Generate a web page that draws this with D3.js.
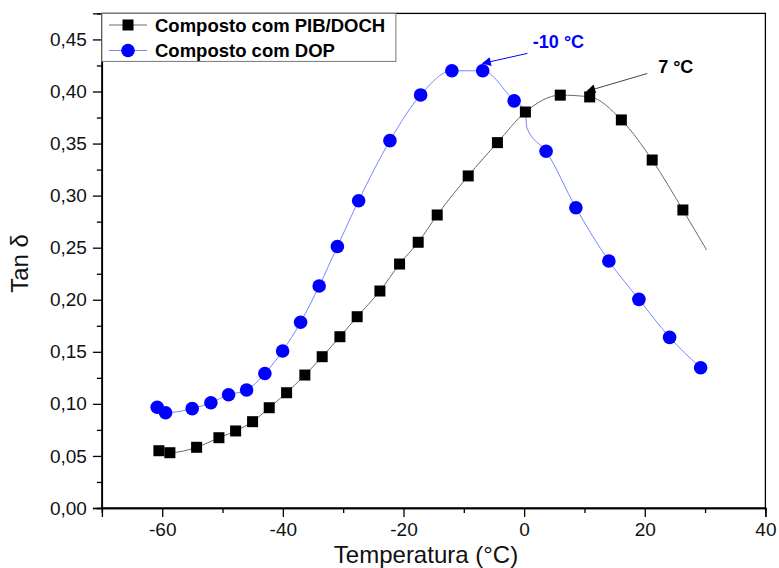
<!DOCTYPE html>
<html>
<head>
<meta charset="utf-8">
<script src="https://cdn.jsdelivr.net/npm/d3@7/dist/d3.min.js"></script>
<style>
  html, body { margin: 0; padding: 0; background: #fff; }
  svg { display: block; font-family: "Liberation Sans", Arial, sans-serif; }
</style>
</head>
<body>
<svg id="chart" width="779" height="568"></svg>
<script>
// Tan delta versus temperature for two composites
const seriesNames = ["Composto com PIB/DOCH", "Composto com DOP"];

// Composto com PIB/DOCH (squares)
const pibTemp = [-60.55, -58.73, -54.30, -50.60, -47.83, -45.02, -42.26, -39.38, -36.35, -33.48,
                 -30.54, -27.68, -23.91, -20.65, -17.56, -14.41, -9.27, -4.43, 0.21, 5.99,
                 10.87, 16.12, 21.23, 26.32];
const pibTan  = [0.0550, 0.0531, 0.0583, 0.0675, 0.0740, 0.0829, 0.0963, 0.1107, 0.1277, 0.1453,
                 0.1645, 0.1837, 0.2084, 0.2343, 0.2552, 0.2814, 0.3189, 0.3509, 0.3803, 0.3965,
                 0.3948, 0.3727, 0.3342, 0.2862];
// fitted curve runs a little beyond the last measured point
const pibCurveEndTemp = [30.25];
const pibCurveEndTan  = [0.2478];

// Composto com DOP (circles)
const dopTemp = [-60.83, -59.44, -55.03, -51.93, -49.00, -46.01, -42.98, -40.04, -37.06, -33.98,
                 -30.96, -27.44, -22.25, -17.16, -11.98, -6.87, -1.66, 3.64, 8.58, 14.05,
                 19.03, 24.12, 29.26];
const dopTan  = [0.0967, 0.0915, 0.0954, 0.1011, 0.1088, 0.1133, 0.1292, 0.1508, 0.1784, 0.2132,
                 0.2512, 0.2951, 0.3528, 0.3967, 0.4199, 0.4199, 0.3910, 0.3426, 0.2884, 0.2372,
                 0.2004, 0.1639, 0.1347];
// step in the DOP trace near 0 °C
const dopStepTemp = [0.19, 0.46];
const dopStepTan  = [0.3813, 0.3650];

// Axis ticks
const xMajorTicks = [-60, -40, -20, 0, 20, 40];
const xMinorTicks = [-70, -50, -30, -10, 10, 30];
const yMajorTicks = [0, 0.05, 0.10, 0.15, 0.20, 0.25, 0.30, 0.35, 0.40, 0.45];
const yMinorTicks = [0.025, 0.075, 0.125, 0.175, 0.225, 0.275, 0.325, 0.375, 0.425];

// Peak annotations: label, label position, arrow start and arrow tip
const peakLabels = ["-10 °C", "7 °C"];
const peakLabelTemp = [1.45, 22.22];
const peakLabelTan  = [0.4415, 0.418];
const peakArrowFromTemp = [0.55, 20.42];
const peakArrowFromTan  = [0.4366, 0.4173];
const peakArrowToTemp = [-6.87, 10.44];
const peakArrowToTan  = [0.4270, 0.4003];

const colors = { pib: "#000000", pibLine: "#6a6a6a", dop: "#0000ff", dopLine: "#7a86ff" };

const svg = d3.select("#chart");
const W = 779, H = 568;
const m = { left: 101.9, right: 13.6, top: 13.4, bottom: 60 };

const x = d3.scaleLinear().domain([-70, 40]).range([m.left, W - m.right]);
const y = d3.scaleLinear().domain([0, 0.475]).range([H - m.bottom, m.top]);

const fmtY = v => d3.format(".2f")(v).replace(".", ",");
const fmtX = v => String(v); // plain hyphen-minus

// Plot frame
svg.append("rect")
  .attr("x", x(-70)).attr("y", y(0.475))
  .attr("width", x(40) - x(-70)).attr("height", y(0) - y(0.475))
  .attr("fill", "none").attr("stroke", "#000").attr("stroke-width", 1.3);

// Axes
const xAxis = svg.append("g").attr("transform", `translate(0,${y(0)})`)
  .call(d3.axisBottom(x).tickValues(xMajorTicks).tickSize(9).tickPadding(6).tickFormat(fmtX));
const xAxisMinor = svg.append("g").attr("transform", `translate(0,${y(0)})`)
  .call(d3.axisBottom(x).tickValues(xMinorTicks).tickSize(5).tickFormat(""));
const yAxis = svg.append("g").attr("transform", `translate(${x(-70)},0)`)
  .call(d3.axisLeft(y).tickValues(yMajorTicks).tickSize(9).tickPadding(6).tickFormat(fmtY));
const yAxisMinor = svg.append("g").attr("transform", `translate(${x(-70)},0)`)
  .call(d3.axisLeft(y).tickValues(yMinorTicks).tickSize(5).tickFormat(""));

[xAxis, xAxisMinor, yAxis, yAxisMinor].forEach(g => {
  g.select(".domain").attr("stroke", "#000").attr("stroke-width", 1.3);
  g.selectAll(".tick line").attr("stroke", "#000").attr("stroke-width", 1.3);
  g.selectAll(".tick text").attr("fill", "#111").attr("font-size", 19)
    .attr("font-family", "'Liberation Sans', Arial, sans-serif");
});

// Axis titles
svg.append("text")
  .attr("x", 426).attr("y", 563)
  .attr("text-anchor", "middle").attr("font-size", 24).attr("fill", "#111")
  .text("Temperatura (°C)");
svg.append("text")
  .attr("transform", "translate(28,263.5) rotate(-90)")
  .attr("text-anchor", "middle").attr("font-size", 24).attr("fill", "#111")
  .text("Tan δ");

// Curves
const pibPts = pibTemp.map((t, i) => [t, pibTan[i]])
  .concat(pibCurveEndTemp.map((t, i) => [t, pibCurveEndTan[i]]));
const dopPts = dopTemp.map((t, i) => [t, dopTan[i]])
  .concat(dopStepTemp.map((t, i) => [t, dopStepTan[i]]))
  .sort((a, b) => a[0] - b[0]);

const line = d3.line().x(d => x(d[0])).y(d => y(d[1])).curve(d3.curveMonotoneX);

svg.append("path").datum(pibPts).attr("d", line)
  .attr("fill", "none").attr("stroke", colors.pibLine).attr("stroke-width", 1);
svg.append("path").datum(dopPts).attr("d", line)
  .attr("fill", "none").attr("stroke", colors.dopLine).attr("stroke-width", 1);

// Markers
const sq = 11;
svg.append("g").selectAll("rect").data(pibTemp.map((t, i) => [t, pibTan[i]])).join("rect")
  .attr("x", d => x(d[0]) - sq / 2).attr("y", d => y(d[1]) - sq / 2)
  .attr("width", sq).attr("height", sq).attr("fill", colors.pib);
svg.append("g").selectAll("circle").data(dopTemp.map((t, i) => [t, dopTan[i]])).join("circle")
  .attr("cx", d => x(d[0])).attr("cy", d => y(d[1])).attr("r", 6.8).attr("fill", colors.dop);

// Peak annotations
const defs = svg.append("defs");
[["arrBlue", colors.dop], ["arrBlack", "#000"]].forEach(([id, c]) => {
  defs.append("marker").attr("id", id).attr("viewBox", "0 0 10 10")
    .attr("refX", 9).attr("refY", 5).attr("markerWidth", 12).attr("markerHeight", 9)
    .attr("markerUnits", "userSpaceOnUse").attr("orient", "auto")
    .append("path").attr("d", "M0,0 L10,5 L0,10 Z").attr("fill", c);
});
const annColors = [colors.dop, "#000"];
const annLineColors = [colors.dop, "#444"];
peakLabels.forEach((lab, i) => {
  svg.append("line")
    .attr("x1", x(peakArrowFromTemp[i])).attr("y1", y(peakArrowFromTan[i]))
    .attr("x2", x(peakArrowToTemp[i])).attr("y2", y(peakArrowToTan[i]))
    .attr("stroke", annLineColors[i]).attr("stroke-width", 1)
    .attr("marker-end", `url(#${i === 0 ? "arrBlue" : "arrBlack"})`);
  svg.append("text")
    .attr("x", x(peakLabelTemp[i])).attr("y", y(peakLabelTan[i]))
    .attr("font-size", 18).attr("font-weight", "bold").attr("fill", annColors[i])
    .text(lab);
});

// Legend
const lg = svg.append("g");
lg.append("rect").attr("x", x(-70)).attr("y", y(0.475))
  .attr("width", 294).attr("height", 48)
  .attr("fill", "#fff").attr("stroke", "#777").attr("stroke-width", 1);
const legendRows = [
  { name: seriesNames[0], line: colors.pibLine, mark: "square", fill: colors.pib },
  { name: seriesNames[1], line: colors.dopLine, mark: "circle", fill: colors.dop }
];
legendRows.forEach((r, i) => {
  const cy = 25 + i * 25.5;
  lg.append("line").attr("x1", 109).attr("x2", 147).attr("y1", cy).attr("y2", cy)
    .attr("stroke", r.line).attr("stroke-width", 1);
  if (r.mark === "square") {
    lg.append("rect").attr("x", 128 - sq / 2).attr("y", cy - sq / 2)
      .attr("width", sq).attr("height", sq).attr("fill", r.fill);
  } else {
    lg.append("circle").attr("cx", 128).attr("cy", cy).attr("r", 6.8).attr("fill", r.fill);
  }
  lg.append("text").attr("x", 155).attr("y", cy + 6.5)
    .attr("font-size", 18.5).attr("font-weight", "bold").attr("fill", "#000")
    .text(r.name);
});
</script>
</body>
</html>
